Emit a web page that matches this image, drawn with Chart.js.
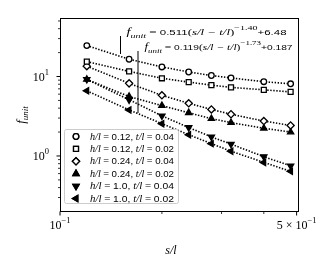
<!DOCTYPE html>
<html><head><meta charset="utf-8">
<script src="https://cdn.jsdelivr.net/npm/chart.js@4/dist/chart.umd.min.js"></script>
<style>html,body{margin:0;padding:0;background:#fff}#wrap{width:335px;height:268px;position:relative}</style>
</head><body><div id="wrap"><canvas id="c"></canvas></div>
<script>
// ---- data ----
const sOverL = [0.12, 0.16, 0.20, 0.24, 0.28, 0.32, 0.40, 0.48];
const h012_t004 = [24.5, 16.5, 13.2, 11.4, 10.3, 9.6, 8.6, 8.1];
const h012_t002 = [15.4, 11.6, 9.5, 8.5, 7.8, 7.3, 6.8, 6.4];
const h024_t004 = [13.5, 8.2, 5.8, 4.6, 3.85, 3.35, 2.75, 2.42];
const h024_t002 = [9.2, 5.6, 4.3, 3.5, 2.95, 2.63, 2.23, 2.0];
const h10_t004 = [9.2, 5.1, 3.2, 2.28, 1.74, 1.41, 0.98, 0.75];
const h10_t002 = [6.6, 3.8, 2.55, 1.85, 1.43, 1.15, 0.83, 0.64];
const hLabels = ['0.12', '0.12', '0.24', '0.24', '1.0', '1.0'];
const tLabels = ['0.04', '0.02', '0.04', '0.02', '0.04', '0.02'];
const xMajorTicks = [0.1, 0.5];
const xMajorMant = ['', '5'];
const xMinorTicks = [0.2, 0.3, 0.4];
const yMajorTicks = [1, 10];
const yMajorExp = ['0', '1'];
const yMinorTicks = [0.3, 0.4, 0.5, 0.6, 0.7, 0.8, 0.9, 2, 3, 4, 5, 6, 7, 8, 9, 20, 30, 40, 50];
const fit1 = ['0.511', '\u22121.40', '+6.48'];
const fit2 = ['0.119', '\u22121.73', '+0.187'];

const allSeries = [h012_t004, h012_t002, h024_t004, h024_t002, h10_t004, h10_t002];
const markers = [
  {style: 'circle', r: 2.8, rot: 0, fill: '#fff'},
  {style: 'rect', r: 3.5, rot: 0, fill: '#fff'},
  {style: 'rectRot', r: 3.6, rot: 0, fill: '#fff'},
  {style: 'triangle', r: 3.6, rot: 0, fill: '#000'},
  {style: 'triangle', r: 3.6, rot: 180, fill: '#000'},
  {style: 'triangle', r: 3.6, rot: 270, fill: '#000'}
];

const SERIF = '"Liberation Serif", "DejaVu Serif", serif';
const SANS = '"Liberation Sans", "DejaVu Sans", sans-serif';

function rich(ctx, x, y, segs, align, targetW) {
  let w = 0;
  segs.forEach(s => { ctx.font = s.f; s.w = ctx.measureText(s.t).width; w += s.w; });
  const sc = targetW ? targetW / w : 1;
  ctx.save();
  ctx.translate(x, y);
  ctx.scale(sc, 1);
  let cx = align === 'center' ? -w / 2 : (align === 'right' ? -w : 0);
  ctx.textAlign = 'left';
  segs.forEach(s => { ctx.font = s.f; ctx.fillText(s.t, cx, s.dy || 0); cx += s.w; });
  ctx.restore();
}

function marker(ctx, m, x, y) {
  ctx.save();
  ctx.lineWidth = 1.3; ctx.strokeStyle = '#000'; ctx.fillStyle = m.fill;
  Chart.helpers.drawPoint(ctx, {pointStyle: m.style, radius: m.r, rotation: m.rot, borderWidth: 1.3}, x, y);
  ctx.fill(); ctx.stroke();
  ctx.restore();
}

const decor = {
  id: 'decor',
  afterDraw(chart) {
    const ctx = chart.ctx, a = chart.chartArea;
    const xs = chart.scales.x, ys = chart.scales.y;
    ctx.save();
    ctx.strokeStyle = '#000'; ctx.fillStyle = '#000';
    // frame
    ctx.lineWidth = 1;
    ctx.strokeRect(Math.round(a.left) + 0.5, Math.round(a.top) + 0.5, Math.round(a.right - a.left), Math.round(a.bottom - a.top));
    // ticks
    function tk(x1, y1, x2, y2, w) { ctx.lineWidth = w; ctx.beginPath(); ctx.moveTo(x1, y1); ctx.lineTo(x2, y2); ctx.stroke(); }
    const B = Math.round(a.bottom) + 0.5, L = Math.round(a.left) + 0.5;
    xMajorTicks.forEach(v => { const p = xs.getPixelForValue(v); tk(p, B, p, B + 4, 1); });
    xMinorTicks.forEach(v => { const p = xs.getPixelForValue(v); tk(p, B, p, B + 2.5, 0.8); });
    yMajorTicks.forEach(v => { const p = ys.getPixelForValue(v); tk(L, p, L - 4, p, 1); });
    yMinorTicks.forEach(v => { const p = ys.getPixelForValue(v); if (p > a.top && p < a.bottom) tk(L, p, L - 2.5, p, 0.8); });
    // tick labels
    ctx.textBaseline = 'alphabetic';
    const fBig = '12px ' + SERIF, fSup = '8.5px ' + SERIF;
    xMajorTicks.forEach((v, i) => {
      const p = xs.getPixelForValue(v);
      const segs = [];
      if (xMajorMant[i]) segs.push({t: xMajorMant[i] + ' \u00d7 ', f: fBig});
      segs.push({t: '10', f: fBig}, {t: '\u22121', f: fSup, dy: -6});
      rich(ctx, p, 229, segs, 'center');
    });
    yMajorTicks.forEach((v, i) => {
      const p = ys.getPixelForValue(v);
      rich(ctx, 49, p + 4, [{t: '10', f: fBig}, {t: yMajorExp[i], f: fSup, dy: -6}], 'right');
    });
    // axis titles
    rich(ctx, 171, 254, [{t: 's/l', f: 'italic 12px ' + SERIF}], 'center');
    ctx.save(); ctx.translate(25, 115); ctx.rotate(-Math.PI / 2);
    rich(ctx, 0, 0, [{t: 'f', f: 'italic 13px ' + SERIF}, {t: 'unit', f: 'italic 9px ' + SERIF, dy: 3}], 'center');
    ctx.restore();
    // fit annotations
    function fitSegs(fv) {
      return [
        {t: 'f', f: 'italic 10px ' + SERIF}, {t: 'unit', f: 'italic 7px ' + SERIF, dy: 2.5},
        {t: ' = ', f: '9px ' + SERIF}, {t: fv[0], f: '8px ' + SANS},
        {t: '(', f: '9px ' + SERIF}, {t: 's/l \u2212 t/l', f: 'italic 9px ' + SERIF}, {t: ')', f: '9px ' + SERIF},
        {t: fv[1], f: '7px ' + SERIF, dy: -5}, {t: fv[2], f: '8px ' + SANS}
      ];
    }
    rich(ctx, 126.5, 35, fitSegs(fit1), 'left', 160);
    rich(ctx, 144.5, 50, fitSegs(fit2), 'left', 148);
    tk(120.5, 36, 120.5, 54, 1);
    tk(138, 51, 138, 113, 1);
    // legend
    const lx = 64.5, ly = 129.5, lw = 114, lh = 74;
    ctx.fillStyle = 'rgba(255,255,255,0.85)'; ctx.strokeStyle = '#cccccc'; ctx.lineWidth = 1;
    ctx.beginPath(); ctx.roundRect(lx, ly, lw, lh, 2); ctx.fill(); ctx.stroke();
    ctx.fillStyle = '#000';
    ctx.textBaseline = 'middle';
    const fi = 'italic 10px ' + SERIF, fs = '10px ' + SERIF, fn = '9.5px ' + SANS;
    for (let i = 0; i < 6; i++) {
      const y = 136.5 + 12.4 * i;
      marker(ctx, markers[i], 76, y);
      ctx.fillStyle = '#000';
      rich(ctx, 90, y + 0.5, [
        {t: 'h/l', f: fi}, {t: ' = ', f: fs}, {t: hLabels[i], f: fn}, {t: ', ', f: fn},
        {t: 't/l', f: fi}, {t: ' = ', f: fs}, {t: tLabels[i], f: fn}
      ], 'left', 84);
    }
    ctx.restore();
  }
};

const datasets = allSeries.map((arr, i) => ({
  label: 'h/l = ' + hLabels[i] + ', t/l = ' + tLabels[i],
  data: sOverL.map((x, j) => ({x: x, y: arr[j]})),
  showLine: true,
  borderColor: '#000',
  borderWidth: 1.6,
  borderDash: [1.4, 1.6],
  pointStyle: markers[i].style,
  pointRadius: markers[i].r,
  pointRotation: markers[i].rot,
  pointBackgroundColor: markers[i].fill,
  pointBorderColor: '#000',
  pointBorderWidth: 1.3,
  tension: 0
}));

new Chart(document.getElementById('c'), {
  type: 'scatter',
  data: {datasets},
  options: {
    responsive: true,
    maintainAspectRatio: false,
    animation: false,
    devicePixelRatio: 1,
    layout: {padding: {top: 18, right: 37.5, left: 0, bottom: 0}},
    plugins: {legend: {display: false}, tooltip: {enabled: false}},
    scales: {
      x: {type: 'logarithmic', min: 0.1, max: 0.503,
          ticks: {display: false}, grid: {display: false}, border: {display: false},
          afterFit(s) { s.height = 57; }},
      y: {type: 'logarithmic', min: 0.203, max: 54.5,
          ticks: {display: false}, grid: {display: false}, border: {display: false},
          afterFit(s) { s.width = 60; }}
    }
  },
  plugins: [decor]
});
</script></body></html>
